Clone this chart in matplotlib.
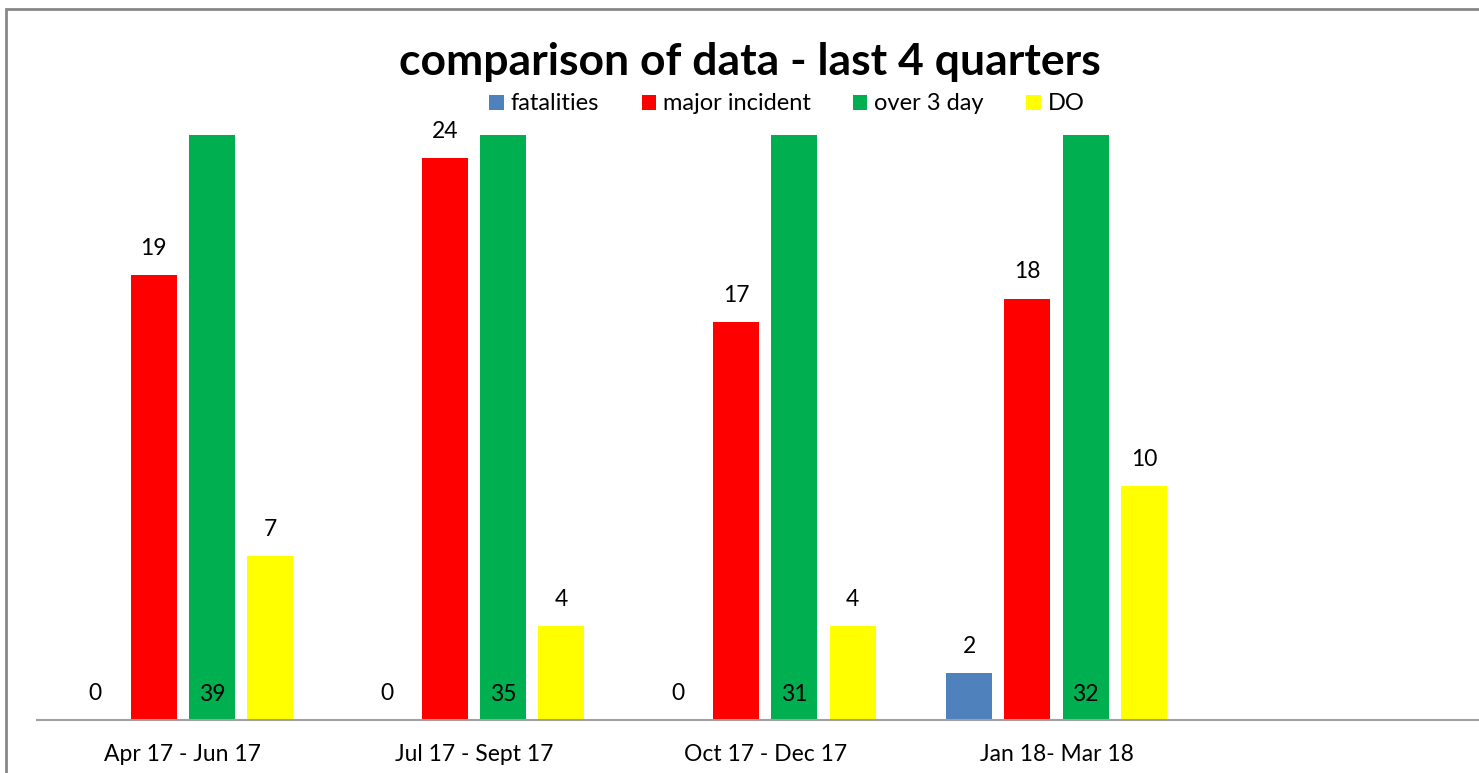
import matplotlib
matplotlib.use("Agg")
from matplotlib import pyplot as plt
from matplotlib.patches import Rectangle
import numpy as np

plt.rcParams['font.family'] = ['Lato', 'DejaVu Sans']

# quarters (last slot is empty, as in the original sheet)
quarters = ['Apr 17 - Jun 17', 'Jul 17 - Sept 17', 'Oct 17 - Dec 17', 'Jan 18- Mar 18', '']
fatalities = [0, 0, 0, 2]
major_incident = [19, 24, 17, 18]
over_3_day = [39, 35, 31, 32]
do_cases = [7, 4, 4, 10]

series = [fatalities, major_incident, over_3_day, do_cases]
names = ['fatalities', 'major incident', 'over 3 day', 'DO']
colors = ['#4f81bd', '#ff0000', '#00b050', '#ffff00']

W, H = 1479, 773
fig = plt.figure(figsize=(W / 100, H / 100), dpi=100)

# outer chart border
fig.patches.append(Rectangle((6 / W, -0.05), 1.1, 1 - 9 / H + 0.05, transform=fig.transFigure,
                             fill=False, edgecolor='#888888', linewidth=2, zorder=0))

ax = fig.add_axes([37 / W, 53 / H, 1442 / W, 585 / H])
ax.set_ylim(0, 25)
ax.set_xlim(-0.5, 4.45)

x = np.arange(4)
step = 0.2
width = 0.158
for k, (vals, name, col) in enumerate(zip(series, names, colors)):
    xs = x + (k - 1.5) * step
    ax.bar(xs, vals, width=width, color=col, label=name)
    for xi, v in zip(xs, vals):
        if v > 25:
            # clipped bar: value written inside at the base
            ax.text(xi, 1.1, str(v), ha='center', va='center', fontsize=16.5)
        else:
            ax.text(xi, v + 1.15, str(v), ha='center', va='center', fontsize=16.5)

for s in ['top', 'left', 'right']:
    ax.spines[s].set_visible(False)
ax.spines['bottom'].set_color('#a0a0a0')
ax.spines['bottom'].set_linewidth(1.5)
ax.set_yticks([])
ax.set_xticks(range(len(quarters)))
ax.set_xticklabels(quarters, fontsize=16.5)
ax.tick_params(axis='x', length=0, pad=17)

fig.text(750 / W, 1 - 62 / H, 'comparison of data - last 4 quarters', ha='center', va='center',
         fontsize=32, fontweight='bold')
fig.legend(loc='center', bbox_to_anchor=(787 / W, 1 - 104 / H), ncol=4, frameon=False,
           fontsize=17, handlelength=0.6, handleheight=0.6, handletextpad=0.3,
           columnspacing=1.8)

fig.savefig('out.png', dpi=100)
